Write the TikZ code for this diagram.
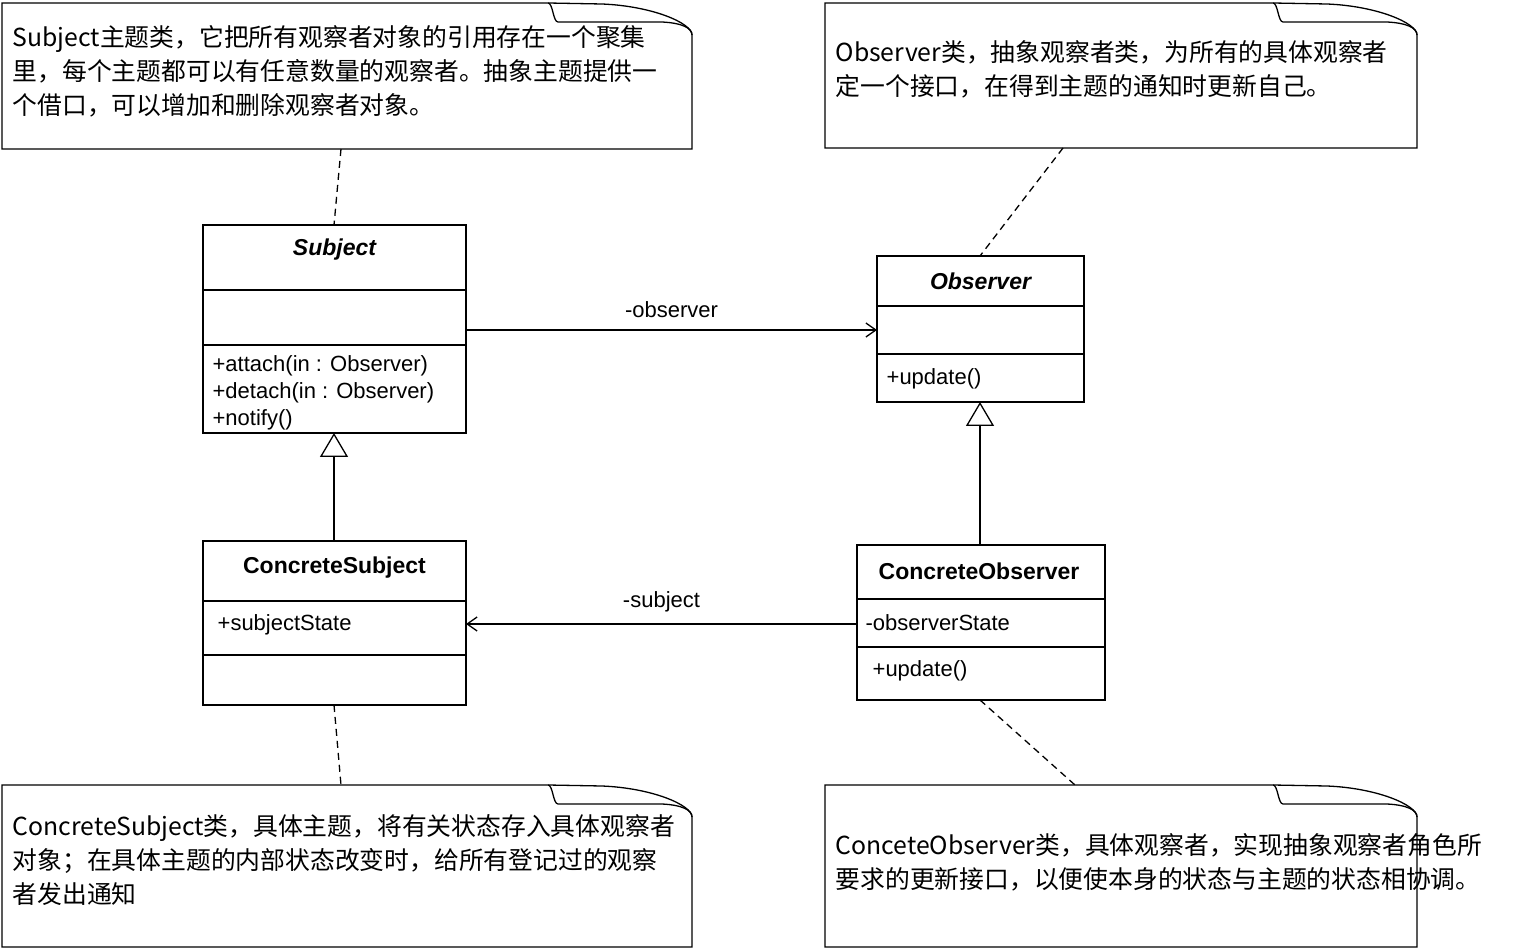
\documentclass[tikz,border=0pt]{standalone}
\usepackage{fontspec}
\setmainfont{Liberation Sans}
\newfontfamily\cjk{Noto Sans CJK SC}
\usetikzlibrary{arrows.meta}
\begin{document}
\begin{tikzpicture}[x=1pt,y=-1pt,line width=1.3pt,
  txt/.style={font=\fontsize{22}{27}\selectfont,anchor=west,inner sep=0},
  ttl/.style={font=\fontsize{23}{27}\selectfont\bfseries,inner sep=0},
  ntxt/.style={font=\cjk\fontsize{24.8}{34}\selectfont,anchor=north west,inner sep=0,align=left},
  dashln/.style={dash pattern=on 7pt off 5pt},
  assoc/.style={-{Straight Barb[length=10pt,width=14pt]}},
  inh/.style={-{Triangle[open,length=24pt,width=28pt,fill=white]}}]
\useasboundingbox (0,0) rectangle (1516,949);
\newcommand{\notebox}[5]{%
  \draw (#1,#2) -- (#3-144,#2) .. controls (#3-139,#2) and (#3-139,#2+19) .. (#3-134,#2+19) -- (#3-30,#2+19) .. controls (#3-10,#2+20) and (#3,#2+25) .. (#3,#2+32) -- (#3,#4) -- (#1,#4) -- cycle;
  \draw (#3-144,#2) -- (#3-90,#2+1) .. controls (#3-40,#2+3) and (#3,#2+20) .. (#3,#2+32);
  \coordinate (#5) at (#1+10,#2+27);}
% notes
\notebox{2}{3}{692}{149}{n1}
\node[ntxt] at (12,25) {Subject主题类，它把所有观察者对象的引用存在一个聚集\\里，每个主题都可以有任意数量的观察者。抽象主题提供一\\个借口，可以增加和删除观察者对象。};
\notebox{825}{3}{1417}{148}{n2}
\node[ntxt] at (835,40) {Observer类，抽象观察者类，为所有的具体观察者\\定一个接口，在得到主题的通知时更新自己。};
\notebox{2}{785}{692}{947}{n3}
\node[ntxt] at (12,814) {ConcreteSubject类，具体主题，将有关状态存入具体观察者\\对象；在具体主题的内部状态改变时，给所有登记过的观察\\者发出通知};
\notebox{825}{785}{1417}{947}{n4}
\node[ntxt] at (835,833) {ConceteObserver类，具体观察者，实现抽象观察者角色所\\要求的更新接口，以便使本身的状态与主题的状态相协调。};
% Subject
\draw (203,225) rectangle (466,433);
\draw (203,290) -- (466,290); \draw (203,345) -- (466,345);
\node[ttl,font=\fontsize{23}{27}\selectfont\bfseries\itshape] (subj) at (334.5,250) {Subject};
\node[txt] at (212,366) {+attach(in : Observer)};
\node[txt] at (212,393) {+detach(in : Observer)};
\node[txt] at (212,420) {+notify()};
\coordinate (sR) at (466,330); \coordinate (sB) at (334,433); \coordinate (sT) at (334,225);
% Observer
\draw (877,256) rectangle (1084,402);
\draw (877,306) -- (1084,306); \draw (877,354) -- (1084,354);
\node[ttl,font=\fontsize{23}{27}\selectfont\bfseries\itshape] (obs) at (980.5,281) {Observer};
\node[txt] at (886,379) {+update()};
\coordinate (oL) at (877,330); \coordinate (oB) at (980,402); \coordinate (oT) at (980,256);
% ConcreteSubject
\draw (203,541) rectangle (466,705);
\draw (203,601) -- (466,601); \draw (203,655) -- (466,655);
\node[ttl] (cs) at (334.5,568) {ConcreteSubject};
\node[txt] at (217,625) {+subjectState};
\coordinate (csR) at (466,624); \coordinate (csT) at (334,541); \coordinate (csB) at (334,705);
% ConcreteObserver
\draw (857,545) rectangle (1105,700);
\draw (857,599) -- (1105,599); \draw (857,647) -- (1105,647);
\node[ttl] (co) at (979,571) {ConcreteObserver};
\node[txt] at (865,623) {-observerState};
\node[txt] at (872,671) {+update()};
\coordinate (coL) at (857,624); \coordinate (coT) at (980,545); \coordinate (coB) at (980,700);
% connectors
\draw[assoc] (sR) -- node[above=8pt,font=\fontsize{22}{27}\selectfont] {-observer} (oL);
\draw[assoc] (coL) -- node[above=8pt,font=\fontsize{22}{27}\selectfont] {-subject} (csR);
\draw[inh] (csT) -- (sB);
\draw[inh] (coT) -- (oB);
\coordinate (a1) at (341,149); \coordinate (a2) at (1063,148);
\coordinate (a3) at (341,785); \coordinate (a4) at (1075,785);
\draw[dashln] (a1) -- (sT);
\draw[dashln] (a2) -- (oT);
\draw[dashln] (csB) -- (a3);
\draw[dashln] (coB) -- (a4);
\end{tikzpicture}
\end{document}
